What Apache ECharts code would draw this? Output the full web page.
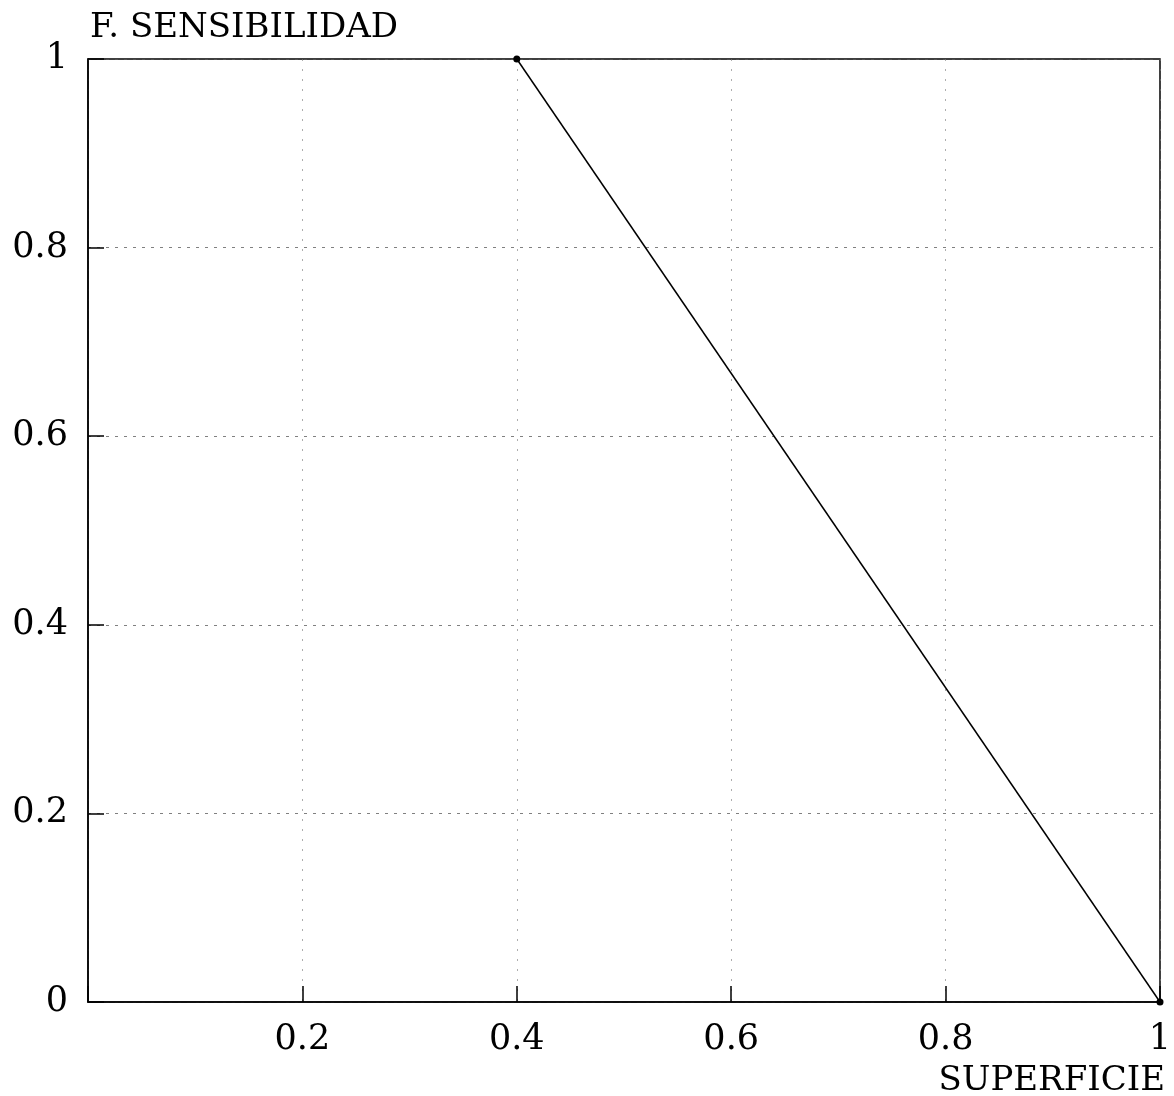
<!DOCTYPE html>
<html>
<head>
<meta charset="utf-8">
<title>F. SENSIBILIDAD</title>
<script src="https://cdn.jsdelivr.net/npm/echarts@6/dist/echarts.min.js"></script>
<style>
  html, body { margin: 0; padding: 0; background: #fff; }
  #chart { width: 1174px; height: 1096px; }
</style>
</head>
<body>
<div id="chart"></div>
<script>
// Sensitivity function versus surface fraction
const superficie = [0.4, 1.0];
const sensibilidad = [1.0, 0.0];
const xAxisName = 'SUPERFICIE';
const yAxisName = 'F. SENSIBILIDAD';

const serif = '"DejaVu Serif", "Liberation Serif", serif';

const chart = echarts.init(document.getElementById('chart'), null, { renderer: 'canvas' });

const hGrid = {
  show: true,
  lineStyle: { color: '#555', width: 1, type: [3, 6], opacity: 0.75 }
};
const vGrid = {
  show: true,
  lineStyle: { color: '#777', width: 1, type: [2, 8], opacity: 0.6 }
};

chart.setOption({
  backgroundColor: '#fff',
  animation: false,
  grid: {
    left: 88, right: 14, top: 59, bottom: 94,
    outerBoundsMode: 'none',
    containLabel: false,
    show: true, borderColor: '#000', borderWidth: 1.5, backgroundColor: 'transparent'
  },
  xAxis: {
    type: 'value', min: 0, max: 1, interval: 0.2,
    name: xAxisName,
    nameLocation: 'end',
    nameGap: 5,
    nameTextStyle: {
      fontFamily: serif, fontSize: 34, color: '#000',
      align: 'right', verticalAlign: 'top', padding: [62, 0, 0, 0]
    },
    axisLine: { show: true, lineStyle: { color: '#000', width: 1.5 } },
    axisTick: { show: true, inside: true, length: 16, lineStyle: { color: '#000', width: 1.5 } },
    axisLabel: {
      fontFamily: serif, fontSize: 35, color: '#000', margin: 20,
      formatter: v => (v === 0 ? '' : String(+v.toFixed(1)))
    },
    splitLine: vGrid
  },
  yAxis: {
    type: 'value', min: 0, max: 1, interval: 0.2,
    name: yAxisName,
    nameLocation: 'end',
    nameGap: 31,
    nameTextStyle: {
      fontFamily: serif, fontSize: 34, color: '#000',
      align: 'left', verticalAlign: 'middle', padding: [0, 0, 0, 2]
    },
    axisLine: { show: true, lineStyle: { color: '#000', width: 1.5 } },
    axisTick: { show: true, inside: true, length: 16, lineStyle: { color: '#000', width: 1.5 } },
    axisLabel: {
      fontFamily: serif, fontSize: 35, color: '#000', margin: 20,
      formatter: v => String(+v.toFixed(1))
    },
    splitLine: hGrid
  },
  series: [{
    type: 'line',
    data: superficie.map((x, i) => [x, sensibilidad[i]]),
    symbol: 'circle',
    symbolSize: 7,
    showSymbol: true,
    clip: false,
    lineStyle: { color: '#000', width: 1.5 },
    itemStyle: { color: '#000' }
  }]
});
</script>
</body>
</html>
